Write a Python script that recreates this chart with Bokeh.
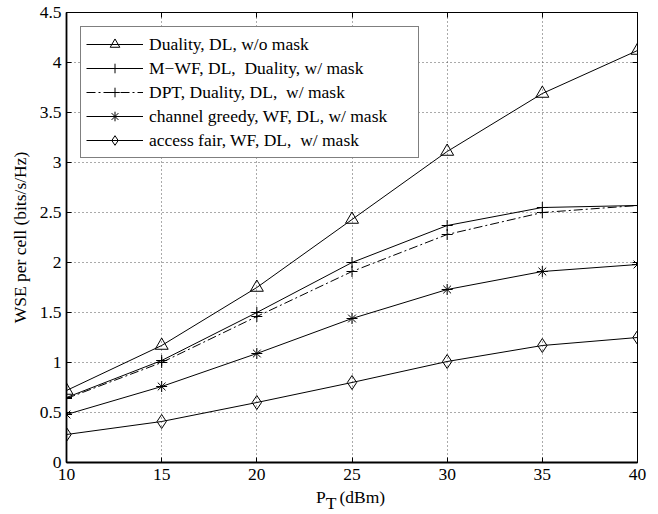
from bokeh.plotting import figure
from bokeh.layouts import column
from bokeh.models import (Range1d, FixedTicker, LinearAxis, Legend, LegendItem,
                          NumeralTickFormatter, Div)
from bokeh.embed import file_html
from bokeh.resources import INLINE

# ---- data ----
x_vals = [10, 15, 20, 25, 30, 35, 40]
duality_no_mask = [0.72, 1.17, 1.75, 2.43, 3.11, 3.69, 4.12]
mwf_duality_mask = [0.65, 1.02, 1.50, 2.00, 2.37, 2.55, 2.57]
dpt_duality_mask = [0.64, 1.00, 1.46, 1.91, 2.28, 2.50, 2.57]
channel_greedy = [0.48, 0.76, 1.09, 1.44, 1.73, 1.91, 1.98]
access_fair = [0.28, 0.41, 0.60, 0.80, 1.01, 1.17, 1.25]

series_labels = [
    "Duality, DL, w/o mask",
    "M\u2212WF, DL,  Duality, w/ mask",
    "DPT, Duality, DL,  w/ mask",
    "channel greedy, WF, DL, w/ mask",
    "access fair, WF, DL,  w/ mask",
]

x_ticks = [10, 15, 20, 25, 30, 35, 40]
x_tick_labels = ["10", "15", "20", "25", "30", "35", "40"]
y_ticks = [0, 0.5, 1, 1.5, 2, 2.5, 3, 3.5, 4, 4.5]
y_tick_labels = ["0", "0.5", "1", "1.5", "2", "2.5", "3", "3.5", "4", "4.5"]

y_axis_title = "WSE per cell (bits/s/Hz)"
x_title_main = "P"
x_title_sub = "T"
x_title_unit = "(dBm)"

FONT = "Liberation Serif"
FS = "17.5px"

p = figure(width=658, height=488, output_backend="svg", toolbar_location=None,
           x_range=Range1d(10, 40), y_range=Range1d(0, 4.5),
           min_border_left=66, min_border_right=21, min_border_top=12,
           min_border_bottom=26, background_fill_color="white",
           border_fill_color="white")
p.outline_line_color = "black"
p.outline_line_width = 1

# grid
p.xgrid.ticker = FixedTicker(ticks=x_ticks)
p.ygrid.ticker = FixedTicker(ticks=y_ticks)
p.grid.grid_line_color = "#555555"
p.grid.grid_line_dash = "1 3"
p.grid.grid_line_width = 1

# main axes
xa = p.xaxis[0]
xa.ticker = FixedTicker(ticks=x_ticks)
xa.formatter = NumeralTickFormatter(format="0.[0]")
xa.major_label_overrides = {t: l for t, l in zip(x_ticks, x_tick_labels)}
ya = p.yaxis[0]
ya.ticker = FixedTicker(ticks=y_ticks)
ya.formatter = NumeralTickFormatter(format="0.[0]")
ya.major_label_overrides = {t: l for t, l in zip(y_ticks, y_tick_labels)}
for ax in (xa, ya):
    ax.major_tick_in = 5
    ax.major_tick_out = 0
    ax.minor_tick_in = 0
    ax.minor_tick_out = 0
    ax.major_tick_line_color = "black"
    ax.axis_line_color = "black"
    ax.axis_line_width = 1.8
    ax.major_label_text_font = FONT
    ax.major_label_text_font_size = FS
    ax.major_label_text_color = "black"
xa.major_label_standoff = 6
ya.major_label_standoff = 5
ya.axis_label = y_axis_title
ya.axis_label_text_font = FONT
ya.axis_label_text_font_size = FS
ya.axis_label_text_font_style = "normal"
ya.axis_label_text_color = "black"
ya.axis_label_standoff = 7

# top/right tick-only axes
top_ax = LinearAxis(ticker=FixedTicker(ticks=x_ticks))
right_ax = LinearAxis(ticker=FixedTicker(ticks=y_ticks))
for ax, ticks in ((top_ax, x_ticks), (right_ax, y_ticks)):
    ax.major_label_overrides = {t: "" for t in ticks}
    ax.major_label_text_font_size = "0px"
    ax.major_label_standoff = 0
    ax.major_tick_in = 5
    ax.major_tick_out = 0
    ax.minor_tick_in = 0
    ax.minor_tick_out = 0
    ax.axis_line_color = "black"
    ax.axis_line_width = 1
p.add_layout(top_ax, "above")
p.add_layout(right_ax, "right")

# series
items = []
l1 = p.line(x_vals, duality_no_mask, line_color="black", line_width=1)
s1 = p.scatter(x_vals, duality_no_mask, marker="triangle", size=13,
               line_color="black", fill_alpha=0, line_width=1)
items.append(LegendItem(label=series_labels[0], renderers=[l1, s1]))

l2 = p.line(x_vals, mwf_duality_mask, line_color="black", line_width=1)
s2 = p.scatter(x_vals, mwf_duality_mask, marker="cross", size=11,
               line_color="black", line_width=1)
items.append(LegendItem(label=series_labels[1], renderers=[l2, s2]))

l3 = p.line(x_vals, dpt_duality_mask, line_color="black", line_width=1,
            line_dash="9 3 2 3")
s3 = p.scatter(x_vals, dpt_duality_mask, marker="cross", size=11,
               line_color="black", line_width=1)
items.append(LegendItem(label=series_labels[2], renderers=[l3, s3]))

l4 = p.line(x_vals, channel_greedy, line_color="black", line_width=1)
s4 = p.scatter(x_vals, channel_greedy, marker="asterisk", size=11,
               line_color="black", line_width=1)
items.append(LegendItem(label=series_labels[3], renderers=[l4, s4]))

l5 = p.line(x_vals, access_fair, line_color="black", line_width=1)
s5 = p.scatter(x_vals, access_fair, marker="diamond", size=14,
               line_color="black", fill_alpha=0, line_width=1)
items.append(LegendItem(label=series_labels[4], renderers=[l5, s5]))

legend = Legend(items=items, location="top_left", margin=14)
legend.border_line_color = "black"
legend.border_line_width = 1
legend.background_fill_color = "white"
legend.background_fill_alpha = 1
legend.label_text_font = FONT
legend.label_text_font_size = FS
legend.label_text_color = "black"
legend.glyph_width = 57
legend.glyph_height = 24
legend.label_height = 24
legend.label_width = 264
legend.label_standoff = 6
legend.spacing = 0
legend.padding = 5
p.add_layout(legend)

# x axis title (with subscript) as real HTML text below the plot
x_title_html = (
    f'<div style="margin-left:316px; white-space:nowrap; '
    f"font-family:'{FONT}', serif; font-size:{FS}; line-height:18px; color:black;\">"
    f'{x_title_main}<span style="position:relative; top:6px;">{x_title_sub}</span>'
    f'<span style="margin-left:3px;">{x_title_unit}</span></div>'
)
x_title = Div(text=x_title_html, width=658, height=26, margin=0,
              styles={"overflow": "hidden"})

layout = column(p, x_title, spacing=0)
open("out.html", "w").write(file_html(layout, INLINE))
